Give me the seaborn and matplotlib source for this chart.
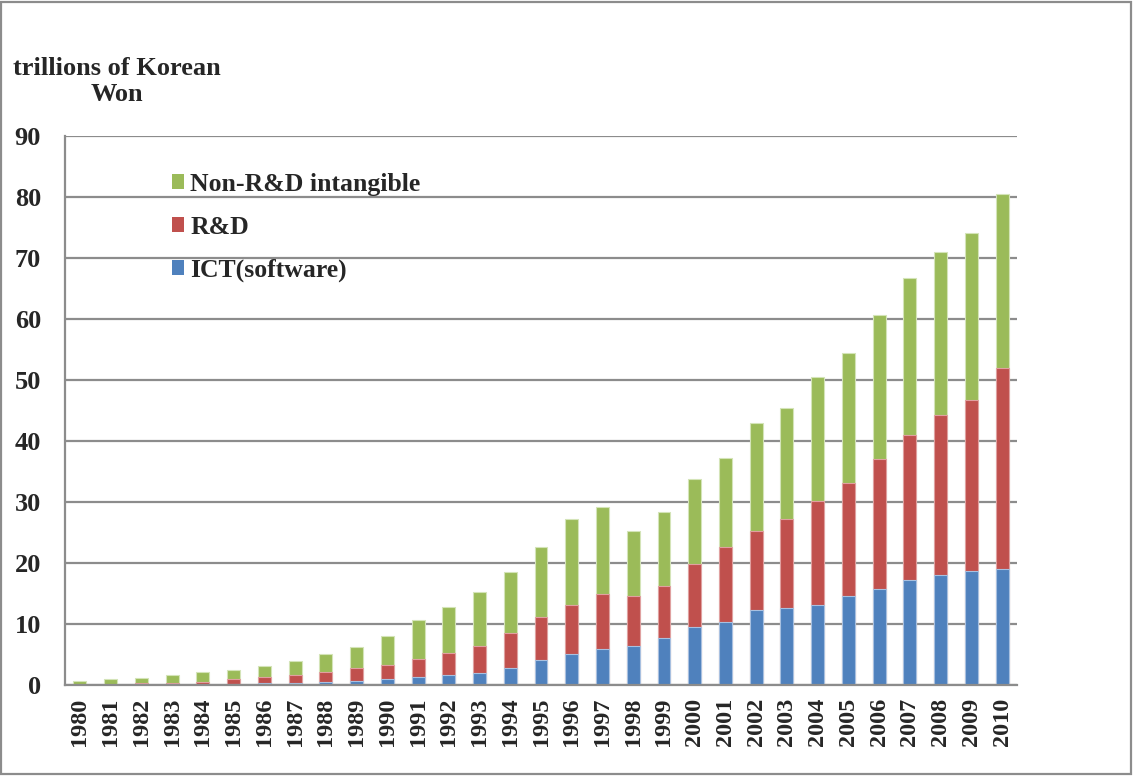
import numpy as np
import pandas as pd
import seaborn as sns
import matplotlib.pyplot as plt

# intangible investment, trillions of Korean Won
years = list(range(1980, 2011))
ict = [0.0, 0.0, 0.05, 0.08, 0.1, 0.2, 0.33, 0.44, 0.55, 0.77, 1.0, 1.3, 1.7,
       2.0, 2.8, 4.2, 5.1, 6.0, 6.5, 7.7, 9.5, 10.3, 12.3, 12.6, 13.1, 14.6,
       15.8, 17.2, 18.1, 18.7, 19.1]
rnd = [0.1, 0.1, 0.23, 0.25, 0.5, 0.8, 0.97, 1.21, 1.65, 1.98, 2.3, 3.0, 3.6,
       4.4, 5.7, 6.9, 8.1, 9.0, 8.1, 8.6, 10.3, 12.4, 13.0, 14.6, 17.1, 18.6,
       21.2, 23.8, 26.2, 28.1, 32.9]
non_rnd = [0.56, 0.84, 0.92, 1.32, 1.6, 1.5, 1.9, 2.25, 2.9, 3.55, 4.8, 6.4, 7.5,
           8.9, 10.0, 11.6, 14.0, 14.2, 10.6, 12.1, 14.0, 14.6, 17.6, 18.2, 20.3,
           21.2, 23.6, 25.7, 26.7, 27.2, 28.4]

df = pd.DataFrame({'year': [str(y) for y in years], 'ICT': ict, 'RnD': rnd, 'NonRnD': non_rnd})
df['lvl_rnd'] = df['ICT'] + df['RnD']
df['lvl_total'] = df['lvl_rnd'] + df['NonRnD']

c_blue = '#4F81BD'
c_red = '#C0504D'
c_green = '#9BBB59'

sns.set_style('white')
plt.rcParams['font.family'] = ['Liberation Serif', 'DejaVu Serif']
plt.rcParams['font.weight'] = 'bold'

fig = plt.figure(figsize=(11.33, 7.76), dpi=100)
ax = fig.add_axes([0.057, 0.117, 0.841, 0.708])

# stacked bars drawn as layered cumulative totals
sns.barplot(data=df, x='year', y='lvl_total', color=c_green, width=0.42,
            edgecolor='#d4e4b8', linewidth=0.8, saturation=1, ax=ax, label='Non-R&D intangible')
sns.barplot(data=df, x='year', y='lvl_rnd', color=c_red, width=0.42,
            edgecolor='#e0a0a0', linewidth=0.8, saturation=1, ax=ax, label='R&D')
sns.barplot(data=df, x='year', y='ICT', color=c_blue, width=0.42,
            edgecolor='#a8c0e0', linewidth=0.8, saturation=1, ax=ax, label='ICT(software)')

ax.set_ylim(0, 90)
ax.set_xlim(-0.5, len(years) - 0.5)
ax.set_yticks(np.arange(0, 91, 10))
ax.yaxis.grid(True, color='#8c8c8c', linewidth=1.6)
ax.set_axisbelow(True)
ax.set_xlabel('')
ax.set_ylabel('')

for s in ['top', 'right']:
    ax.spines[s].set_visible(False)
for s in ['left', 'bottom']:
    ax.spines[s].set_color('#8c8c8c')
    ax.spines[s].set_linewidth(1.6)

ax.tick_params(axis='y', which='major', length=7, width=1.6, color='#8c8c8c',
               labelsize=19, pad=10)
ax.tick_params(axis='x', which='major', length=0, labelsize=17.5, rotation=90, pad=9)
ax.set_xticks(np.arange(-0.5, len(years), 1.0), minor=True)
ax.tick_params(axis='x', which='minor', length=8, width=1.6, color='#8c8c8c')
for lab in ax.get_xticklabels() + ax.get_yticklabels():
    lab.set_fontweight('bold')

handles, labels = ax.get_legend_handles_labels()
leg = ax.legend(handles, labels, loc='upper left', bbox_to_anchor=(0.088, 0.975),
                frameon=False, prop={'size': 18.5, 'weight': 'bold'},
                handlelength=0.48, handleheight=0.48, handletextpad=0.25, labelspacing=0.78)
for h in leg.legend_handles:
    h.set_edgecolor('none')

fig.text(0.103, 0.895, 'trillions of Korean\nWon', ha='center', va='center',
         multialignment='center', fontsize=19, fontweight='bold', linespacing=1.2)

fig.patches.append(plt.Rectangle((0.001, 0.002), 0.997, 0.996, transform=fig.transFigure,
                                 fill=False, edgecolor='#8c8c8c', linewidth=1.6))

fig.savefig('out.png', dpi=100)
